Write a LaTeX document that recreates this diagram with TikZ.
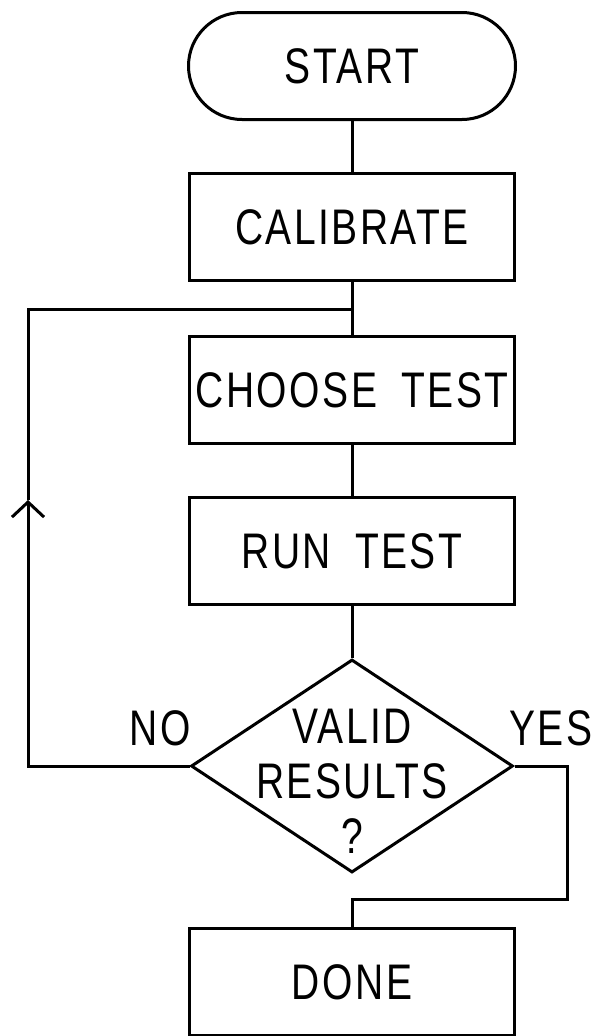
\documentclass[tikz,border=0pt]{standalone}
\usepackage{fontspec}
\setmainfont{Liberation Sans}[FakeStretch=0.78, LetterSpace=5, WordSpace=1.8]
\usetikzlibrary{shapes.geometric,shapes.misc,arrows.meta}
\tikzset{>={Straight Barb[length=15pt,width=32pt]}}

\begin{document}
\begin{tikzpicture}[x=1pt, y=-1pt, line width=3pt, font=\fontsize{50}{55}\selectfont]

	\tikzstyle{step_terminal} = [rounded rectangle, draw=black, minimum width=327pt, minimum height=107pt, inner sep=0pt]
	\tikzstyle{step_box} = [rectangle, draw=black, minimum width=325pt, minimum height=107pt, inner sep=0pt]
	\tikzstyle{step_decision} = [diamond, draw=black, minimum width=322pt, minimum height=213pt, inner sep=0pt]

	\useasboundingbox (0,0) rectangle (595,1036);

%------------------------------------------------------------
	\node[step_terminal] (start)  at (352,66)  {START};
	\node[step_box]      (calib)  at (352,227) {CALIBRATE};
	\node[step_box]      (choose) at (352,390) {CHOOSE TEST};
	\node[step_box]      (run)    at (352,551) {RUN TEST};
	\node[step_decision] (dec)    at (352,766) {};
	\node[align=center, yshift=-15pt] (dec_text) at (dec.center) {VALID\\RESULTS\\?};
	\node[step_box]      (done)   at (352,982) {DONE};

	\node (no_label)  at (160,728) {NO};
	\node (yes_label) at (551,728) {YES};

%------------------------------------------------------------
	\coordinate (loop)    at (352,309);
	\coordinate (arr_tip) at (28,500);
	\coordinate (yes_bend) at (567,899);

	\draw (start) -- (calib);
	\draw (calib) -- (choose);
	\draw (choose) -- (run);
	\draw (run) -- (dec);

	\draw[->] (dec.west) -| (arr_tip);
	\draw (arr_tip) |- (loop);

	\draw (dec.east) -| (yes_bend) -| (done.north);

\end{tikzpicture}
\end{document}
